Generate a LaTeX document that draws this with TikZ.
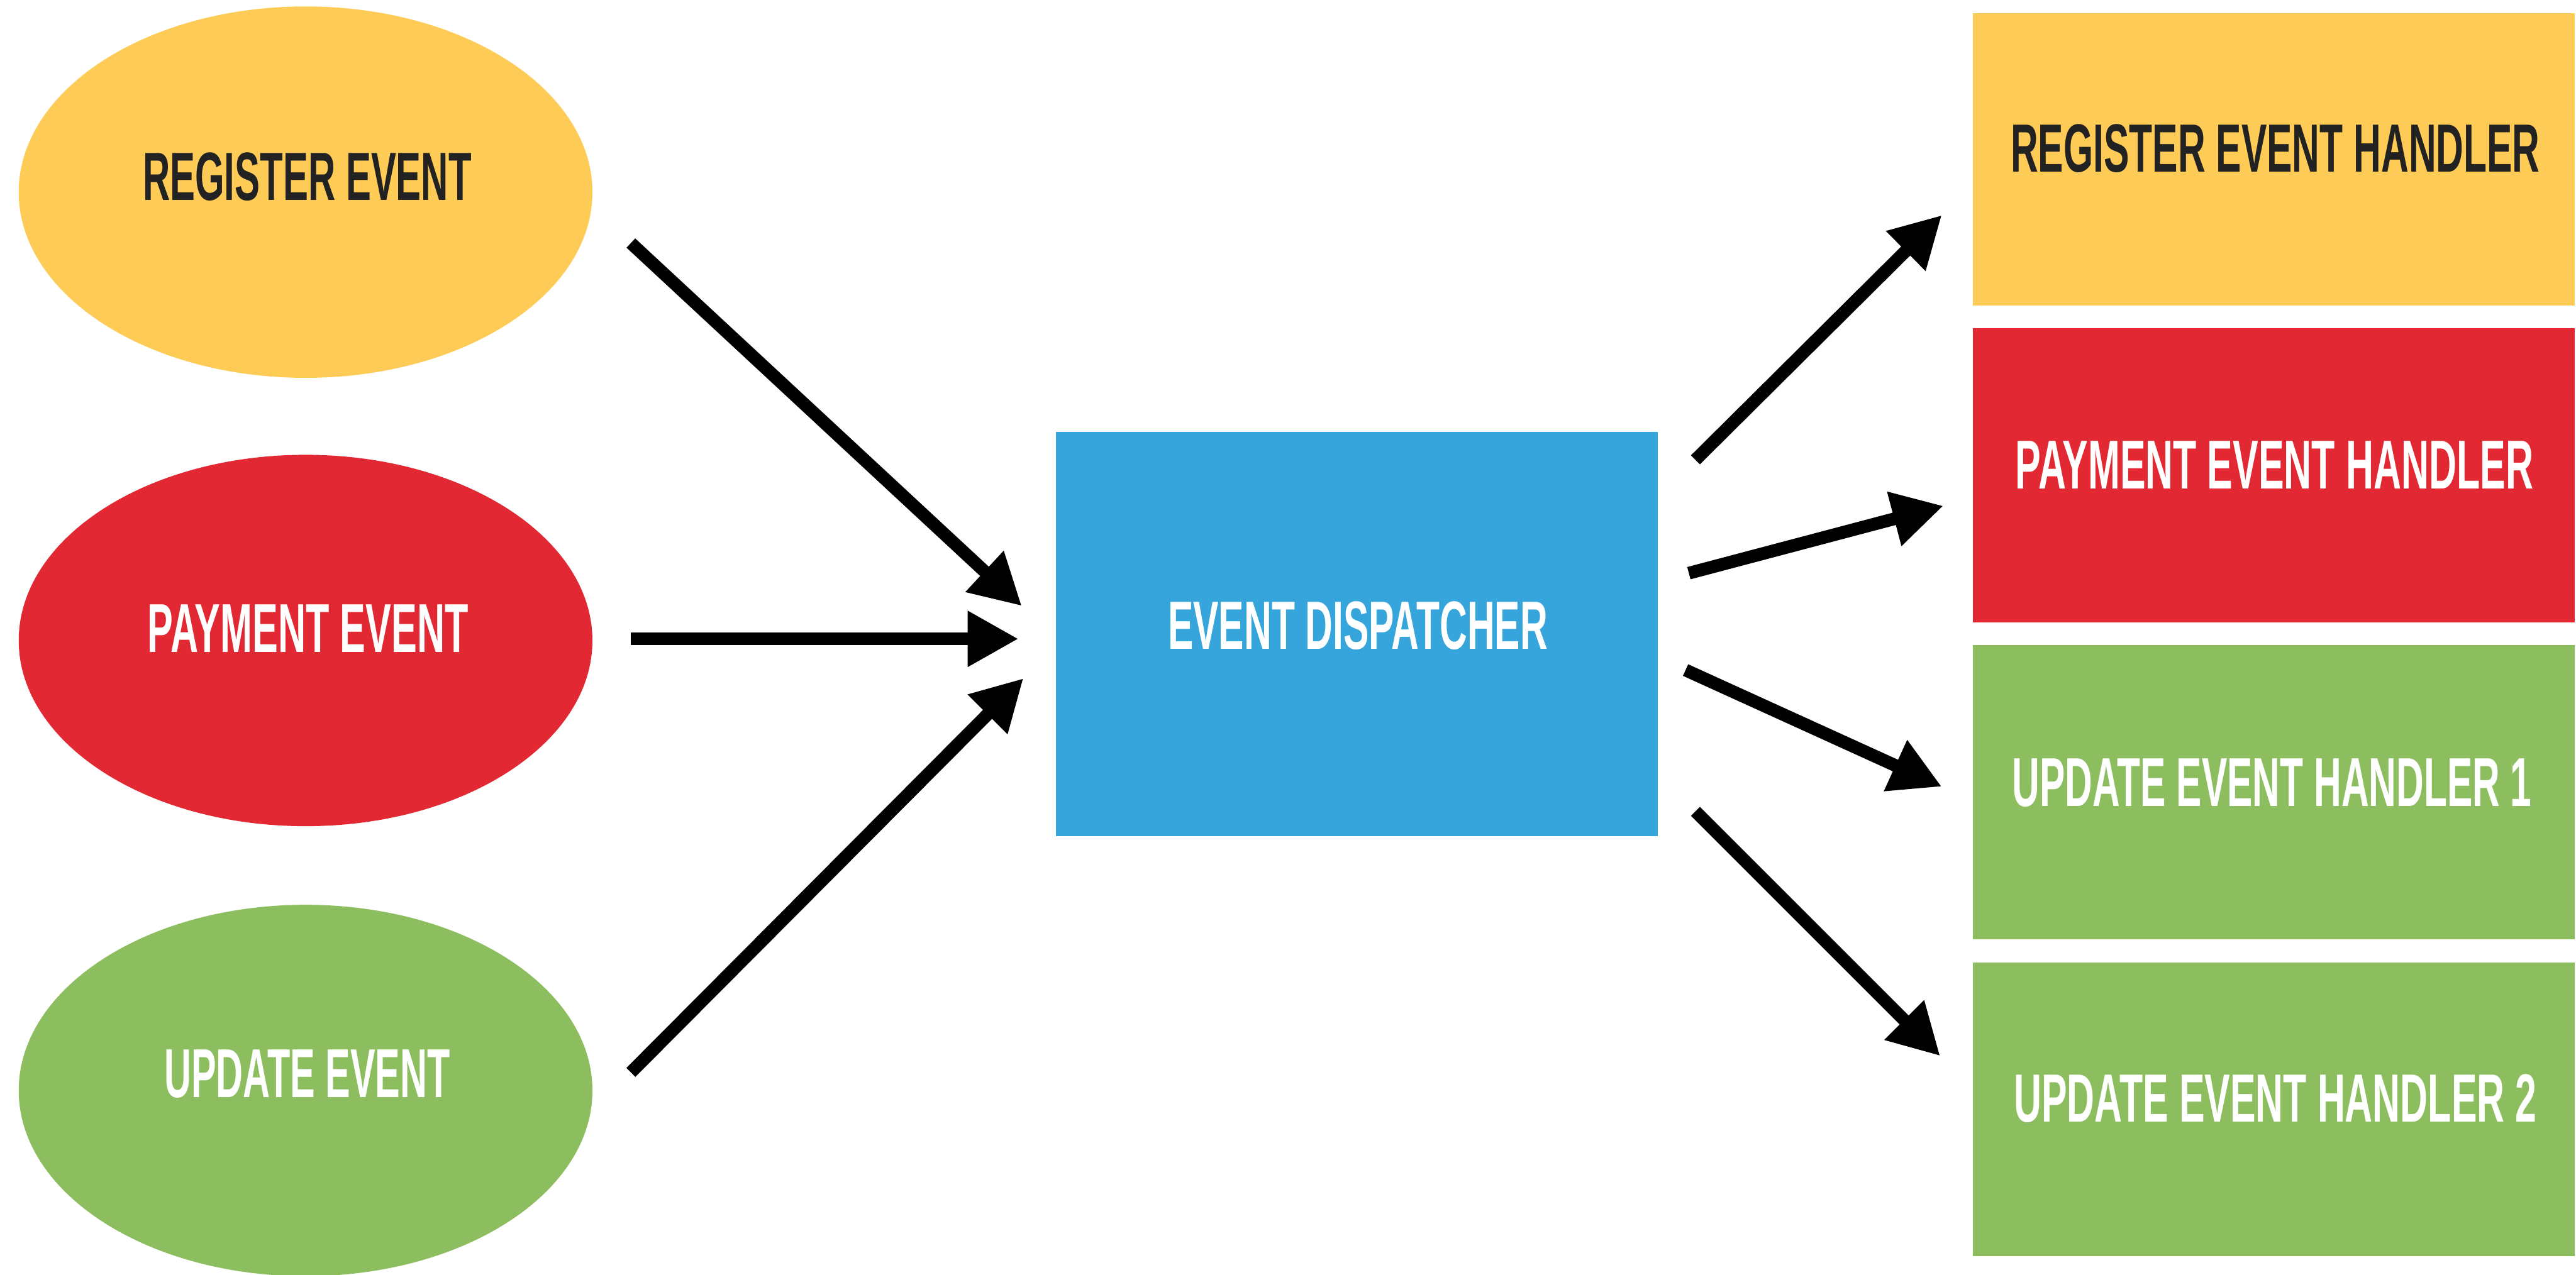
\documentclass[tikz,border=0pt]{standalone}
\usepackage{fontspec}
\setmainfont{Liberation Sans}
\usetikzlibrary{arrows.meta,shapes.geometric}
\definecolor{cyel}{HTML}{FECB57}
\definecolor{cred}{HTML}{E22832}
\definecolor{cgreen}{HTML}{8CBE5F}
\definecolor{cblue}{HTML}{35A5DB}
\definecolor{cdark}{HTML}{222222}
\newcommand{\fitlabel}[2]{\resizebox{#1}{0.29cm}{\bfseries #2}}
\tikzset{
  evshape/.style={ellipse, minimum width=3.49cm, minimum height=2.26cm, inner sep=0pt, draw=none},
  boxshape/.style={rectangle, minimum width=3.66cm, inner sep=0pt, draw=none},
  txt/.style={inner sep=0pt, anchor=center},
  flow/.style={line width=2.2pt, -{Triangle[length=0.31cm,width=0.32cm]}}
}
\begin{document}
\begin{tikzpicture}[x=0.01cm,y=-0.01cm]
\useasboundingbox (0,0) rectangle (1568,776);
\fill[white] (0,0) rectangle (1568,776);

% events
\node[evshape, fill=cyel] (ev1) at (186,117) {};
\node[evshape, fill=cred] (ev2) at (186,390) {};
\node[evshape, fill=cgreen] (ev3) at (186,664) {};
\node[txt, text=cdark] (t1) at (187,107.5) {\fitlabel{2.00cm}{REGISTER EVENT}};
\node[txt, text=white] (t2) at (187.5,382.5) {\fitlabel{1.95cm}{PAYMENT EVENT}};
\node[txt, text=white] (t3) at (187,654) {\fitlabel{1.74cm}{UPDATE EVENT}};

% dispatcher
\node[boxshape, fill=cblue, minimum height=2.46cm] (disp) at (826,386) {};
\node[txt, text=white] (td) at (826.5,381) {\fitlabel{2.31cm}{EVENT DISPATCHER}};

% handlers
\node[boxshape, fill=cyel, minimum height=1.78cm] (h1) at (1384,97) {};
\node[boxshape, fill=cred, minimum height=1.79cm] (h2) at (1384,289.5) {};
\node[boxshape, fill=cgreen, minimum height=1.79cm] (h3) at (1384,482.5) {};
\node[boxshape, fill=cgreen, minimum height=1.79cm] (h4) at (1384,675.5) {};
\node[txt, text=cdark] (th1) at (1385,90.5) {\fitlabel{3.22cm}{REGISTER EVENT HANDLER}};
\node[txt, text=white] (th2) at (1384.5,283) {\fitlabel{3.15cm}{PAYMENT EVENT HANDLER}};
\node[txt, text=white] (th3) at (1383,476.5) {\fitlabel{3.16cm}{UPDATE EVENT HANDLER 1}};
\node[txt, text=white] (th4) at (1385,669) {\fitlabel{3.18cm}{UPDATE EVENT HANDLER 2}};

% arrow end points
\coordinate (a1s) at (384,148);  \coordinate (a1e) at (622,369);
\coordinate (a2s) at (384,389);  \coordinate (a2e) at (620,389);
\coordinate (a3s) at (384,653);  \coordinate (a3e) at (623,413);
\coordinate (b1s) at (1032,280); \coordinate (b1e) at (1182,131);
\coordinate (b2s) at (1028,349); \coordinate (b2e) at (1183,308);
\coordinate (b3s) at (1026,408); \coordinate (b3e) at (1182,479);
\coordinate (b4s) at (1032,494); \coordinate (b4e) at (1181,643);

\draw[flow] (a1s) -- (a1e);
\draw[flow] (a2s) -- (a2e);
\draw[flow] (a3s) -- (a3e);
\draw[flow] (b1s) -- (b1e);
\draw[flow] (b2s) -- (b2e);
\draw[flow] (b3s) -- (b3e);
\draw[flow] (b4s) -- (b4e);
\end{tikzpicture}
\end{document}
